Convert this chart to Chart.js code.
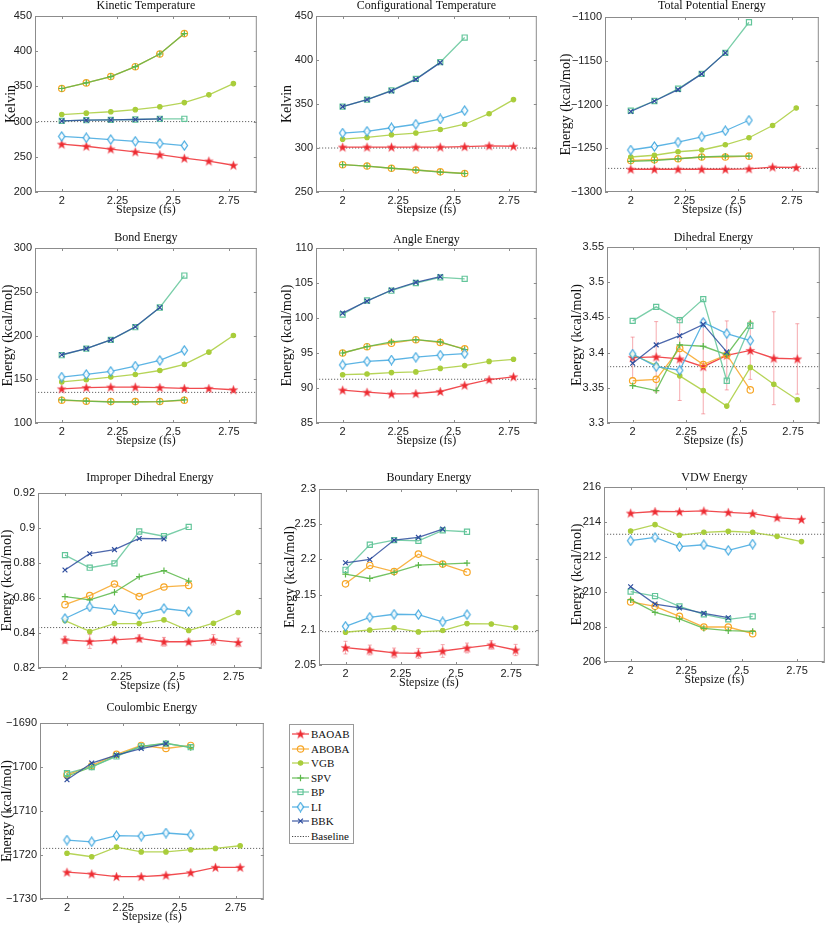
<!DOCTYPE html>
<html>
<head>
<meta charset="utf-8">
<script src="https://cdn.jsdelivr.net/npm/chart.js@4.4.1/dist/chart.umd.min.js"></script>
<style>
html, body { margin: 0; padding: 0; background: #fff; }
body { width: 830px; height: 925px; position: relative; overflow: hidden; }
.panel { position: absolute; }
#legend { position: absolute; left: 289px; top: 724px; width: 63px; height: 118px; border: 1px solid #9a9a9a; background: #fff;
  font: 11px "Liberation Serif", serif; color: #111; }
.item { position: absolute; left: 0; width: 63px; height: 14px; line-height: 14px; }
.item canvas { position: absolute; left: 2px; top: 0; }
.item span { position: absolute; left: 21px; top: 0; white-space: nowrap; }
</style>
</head>
<body>
<div id="legend"></div>
<script>
// integrators, in legend order
const methods = ['BAOAB', 'ABOBA', 'VGB', 'SPV', 'BP', 'LI', 'BBK'];
const stepsizes = [2, 2.11, 2.22, 2.33, 2.44, 2.55, 2.66, 2.77];
const stepTicks = [2, 2.25, 2.5, 2.75];

// each panel: one row per method (same order as methods)
const kineticTemp = [
    [268, 265, 261, 257, 253, 248, 244, 238],
    [347, 355, 364, 378, 396, 425],
    [310, 312, 314, 317, 321, 327, 338, 354],
    [347, 355, 364, 378, 396, 425],
    [301, 302, 302.5, 303, 304, 304],
    [279, 277, 274.5, 272, 269, 266],
    [301, 302, 302.5, 303, 304]
];
const kineticBase = 300;
const kineticTicks = [200, 250, 300, 350, 400, 450];

const configTemp = [
    [301, 301, 301, 301, 301, 301.5, 302.5, 302],
    [281, 279.5, 277, 275, 273, 271],
    [310, 312, 315, 317, 321, 327, 339, 355],
    [281, 279.5, 277, 275, 272.5, 271],
    [347, 355, 365.5, 378.5, 397.5, 425.5],
    [317, 319, 323, 327, 333, 342.5],
    [347, 355, 365, 378, 397]
];
const configBase = 300;
const configTicks = [250, 300, 350, 400, 450];

const totalPot = [
    [-1274, -1274, -1274, -1274, -1274, -1273.5, -1271.5, -1272],
    [-1264, -1263, -1262, -1260, -1260, -1259],
    [-1260, -1258, -1254, -1252, -1246, -1238, -1224, -1204],
    [-1265, -1264, -1262, -1260, -1259, -1259],
    [-1207, -1196, -1182, -1165, -1141, -1106],
    [-1252, -1248, -1243, -1237, -1230, -1218],
    [-1208, -1196, -1183, -1165, -1141]
];
const totalPotBase = -1273;
const totalPotTicks = [-1300, -1250, -1200, -1150, -1100];

const bondEnergy = [
    [139, 140.5, 141, 141, 140.5, 139.5, 139.5, 138],
    [126, 125, 124.5, 124.5, 124.5, 126],
    [147, 149.5, 152.5, 155.5, 160, 167, 181, 200],
    [126.5, 125, 124, 124, 124.5, 126.5],
    [177.5, 185, 195, 209.5, 232, 268.5],
    [152.5, 155.5, 159, 165, 171.5, 183],
    [178, 185, 195, 210, 232]
];
const bondBase = 135;
const bondTicks = [100, 150, 200, 250, 300];

const angleEnergy = [
    [89.7, 89.4, 89.15, 89.2, 89.5, 90.4, 91.2, 91.6],
    [95, 95.9, 96.4, 96.9, 96.5, 95.6],
    [91.9, 92.0, 92.2, 92.3, 92.8, 93.2, 93.8, 94.1],
    [95, 95.9, 96.6, 96.9, 96.6, 95.5],
    [100.5, 102.5, 103.9, 105.0, 105.8, 105.6],
    [93.3, 93.8, 94.0, 94.4, 94.7, 94.9],
    [100.7, 102.4, 104.0, 105.1, 105.9]
];
const angleBase = 91.25;
const angleTicks = [85, 90, 95, 100, 105, 110];

const dihedralEnergy = [
    [3.393, 3.394, 3.391, 3.380, 3.396, 3.403, 3.392, 3.391],
    [3.360, 3.362, 3.406, 3.383, 3.397, 3.347],
    [3.397, 3.382, 3.367, 3.346, 3.324, 3.379, 3.355, 3.333],
    [3.353, 3.346, 3.411, 3.409, 3.397, 3.442],
    [3.445, 3.465, 3.446, 3.476, 3.360, 3.438],
    [3.398, 3.380, 3.375, 3.443, 3.427, 3.417],
    [3.385, 3.411, 3.424, 3.440, 3.401]
];
const dihedralErr = [0.029, 0.05, 0.059, 0.067, 0.049, 0.041, 0.066, 0.05];
const dihedralBase = 3.38;
const dihedralTicks = [3.3, 3.35, 3.4, 3.45, 3.5, 3.55];

const improperEnergy = [
    [0.8361, 0.8352, 0.8361, 0.8369, 0.835, 0.835, 0.8361, 0.8346],
    [0.8562, 0.8614, 0.868, 0.8608, 0.8663, 0.8672],
    [0.8471, 0.8409, 0.8454, 0.8454, 0.8475, 0.8414, 0.8456, 0.8517],
    [0.8608, 0.8589, 0.8633, 0.8722, 0.8756, 0.8697],
    [0.8845, 0.8773, 0.8798, 0.898, 0.8953, 0.9006],
    [0.8483, 0.8549, 0.8532, 0.8506, 0.854, 0.8523],
    [0.876, 0.8853, 0.8876, 0.894, 0.8938]
];
const improperErr = [0.002, 0.004, 0.0015, 0.002, 0.0025, 0.0015, 0.003, 0.0025];
const improperBase = 0.8431;
const improperTicks = [0.82, 0.84, 0.86, 0.88, 0.9, 0.92];

const boundaryEnergy = [
    [2.0747, 2.0713, 2.0671, 2.0666, 2.0699, 2.0742, 2.0785, 2.0713],
    [2.1653, 2.1914, 2.1828, 2.2075, 2.1933, 2.1819],
    [2.0965, 2.0998, 2.1027, 2.097, 2.0989, 2.1088, 2.1083, 2.1031],
    [2.179, 2.1729, 2.1814, 2.1918, 2.1933, 2.1947],
    [2.1852, 2.2208, 2.2274, 2.2265, 2.2412, 2.2393],
    [2.105, 2.1178, 2.1221, 2.1216, 2.1112, 2.1216],
    [2.1952, 2.1999, 2.2274, 2.2312, 2.2431]
];
const boundaryErr = [0.009, 0.007, 0.007, 0.007, 0.009, 0.007, 0.006, 0.008];
const boundaryBase = 2.0974;
const boundaryTicks = [2.05, 2.1, 2.15, 2.2, 2.25, 2.3];

const vdwEnergy = [
    [214.51, 214.6, 214.59, 214.63, 214.55, 214.48, 214.25, 214.15],
    [209.43, 209.18, 208.61, 208.0, 208.0, 207.62],
    [213.49, 213.85, 213.24, 213.41, 213.47, 213.41, 213.18, 212.88],
    [209.56, 208.84, 208.46, 207.92, 207.79, 207.75],
    [210.02, 209.77, 209.18, 208.72, 208.44, 208.61],
    [212.93, 213.12, 212.59, 212.7, 212.38, 212.74],
    [210.3, 209.31, 209.09, 208.78, 208.53]
];
const vdwBase = 213.3;
const vdwTicks = [206, 208, 210, 212, 214, 216];

const coulombEnergy = [
    [-1723.9, -1724.3, -1724.9, -1724.9, -1724.6, -1724.0, -1722.8, -1722.8],
    [-1701.8, -1699.7, -1697.1, -1695.1, -1695.8, -1695.1],
    [-1719.6, -1720.4, -1718.2, -1719.3, -1719.3, -1718.8, -1718.5, -1717.9],
    [-1702.1, -1700.0, -1697.4, -1695.3, -1694.6, -1695.6],
    [-1701.4, -1700.0, -1697.6, -1695.3, -1694.7, -1695.5],
    [-1716.6, -1717.0, -1715.6, -1715.7, -1715.0, -1715.4],
    [-1702.9, -1699.1, -1697.3, -1695.8, -1694.7]
];
const coulombBase = -1718.5;
const coulombTicks = [-1730, -1720, -1710, -1700, -1690];

const X_MIN = 1.88, X_MAX = 2.875;
const ENERGY = 'Energy (kcal/mol)';

const colors = {
    BAOAB: '#ee2b30', ABOBA: '#f7a626', VGB: '#a9cd3b', SPV: '#5cb84a',
    BP: '#63c59a', LI: '#3fa7df', BBK: '#2e4d9e'
};

// plot-area boxes [left, top, right, bottom], y-title centre x, title gap
const panels = [
    { title: 'Kinetic Temperature', yLabel: 'Kelvin', series: kineticTemp, base: kineticBase, yTicks: kineticTicks, box: [35, 16, 258, 192], yt: 11, td: 10 },
    { title: 'Configurational Temperature', yLabel: 'Kelvin', series: configTemp, base: configBase, yTicks: configTicks, box: [316, 16, 538, 192], yt: 287, td: 10 },
    { title: 'Total Potential Energy', yLabel: ENERGY, series: totalPot, base: totalPotBase, yTicks: totalPotTicks, box: [605, 17, 820, 192], yt: 566, td: 11 },
    { title: 'Bond Energy', yLabel: ENERGY, series: bondEnergy, base: bondBase, yTicks: bondTicks, box: [35, 248, 258, 423], yt: 8, td: 10 },
    { title: 'Angle Energy', yLabel: ENERGY, series: angleEnergy, base: angleBase, yTicks: angleTicks, box: [316, 248, 538, 423], yt: 287, td: 8 },
    { title: 'Dihedral Energy', yLabel: ENERGY, series: dihedralEnergy, base: dihedralBase, yTicks: dihedralTicks, err: dihedralErr, box: [607, 247, 821, 423], yt: 577, td: 9 },
    { title: 'Improper Dihedral Energy', yLabel: ENERGY, series: improperEnergy, base: improperBase, yTicks: improperTicks, err: improperErr, box: [38, 493, 263, 668], yt: 7, td: 15 },
    { title: 'Boundary Energy', yLabel: ENERGY, series: boundaryEnergy, base: boundaryBase, yTicks: boundaryTicks, err: boundaryErr, box: [319, 489, 540, 665], yt: 290, td: 11 },
    { title: 'VDW Energy', yLabel: ENERGY, series: vdwEnergy, base: vdwBase, yTicks: vdwTicks, box: [604, 487, 826, 662], yt: 577, td: 9 },
    { title: 'Coulombic Energy', yLabel: ENERGY, series: coulombEnergy, base: coulombBase, yTicks: coulombTicks, box: [40, 723, 265, 899], yt: 7, td: 15 }
];

// marker images for the filled star and the tall diamond
function starImage(color) {
    const c = document.createElement('canvas');
    c.width = 11; c.height = 11;
    const g = c.getContext('2d');
    g.beginPath();
    for (let k = 0; k < 10; k++) {
        const rr = k % 2 ? 2.0 : 4.8;
        const a = -Math.PI / 2 + k * Math.PI / 5;
        g.lineTo(5.5 + rr * Math.cos(a), 5.9 + rr * Math.sin(a));
    }
    g.closePath();
    g.fillStyle = color;
    g.fill();
    g.strokeStyle = 'rgba(240,120,130,0.7)';
    g.lineWidth = 0.7;
    g.stroke();
    return c;
}

function diamondImage(color) {
    const c = document.createElement('canvas');
    c.width = 9; c.height = 11;
    const g = c.getContext('2d');
    g.beginPath();
    g.moveTo(4.5, 1); g.lineTo(7.6, 5.5); g.lineTo(4.5, 10); g.lineTo(1.4, 5.5);
    g.closePath();
    g.fillStyle = 'rgba(255,255,255,0.85)';
    g.fill();
    g.strokeStyle = color;
    g.lineWidth = 1.2;
    g.stroke();
    return c;
}

const markers = {
    BAOAB: { style: starImage(colors.BAOAB), r: 4, fill: colors.BAOAB },
    ABOBA: { style: 'circle', r: 3.2, fill: 'rgba(255,255,255,0)' },
    VGB: { style: 'circle', r: 2.2, fill: colors.VGB },
    SPV: { style: 'cross', r: 3.2, fill: colors.SPV },
    BP: { style: 'rect', r: 3.6, fill: 'rgba(255,255,255,0)' },
    LI: { style: diamondImage(colors.LI), r: 4, fill: 'rgba(255,255,255,0)' },
    BBK: { style: 'crossRot', r: 3.4, fill: colors.BBK }
};

function fmt(v) {
    return String(Math.round(v * 1e6) / 1e6).replace('-', '\u2212');
}

function makePanel(p) {
    const [l, t, r, b] = p.box;
    const cl = Math.round(p.yt - 9.4);
    const ct = t - 26;
    const div = document.createElement('div');
    div.className = 'panel';
    div.style.left = cl + 'px';
    div.style.top = ct + 'px';
    div.style.width = (r + 4 - cl) + 'px';
    div.style.height = (b + 28 - ct) + 'px';
    const canvas = document.createElement('canvas');
    div.appendChild(canvas);
    document.body.appendChild(div);

    const datasets = methods.map((m, i) => ({
        label: m,
        data: p.series[i].map((v, k) => ({ x: stepsizes[k], y: v })),
        borderColor: colors[m] + 'd9',
        borderWidth: 1.3,
        pointStyle: markers[m].style,
        pointRadius: markers[m].r,
        pointBorderColor: colors[m],
        pointBackgroundColor: markers[m].fill,
        pointBorderWidth: 1.2,
        tension: 0,
        order: 7 - i
    }));
    datasets.push({
        label: 'Baseline',
        data: [{ x: X_MIN, y: p.base }, { x: X_MAX, y: p.base }],
        borderColor: '#666',
        borderWidth: 1,
        borderDash: [1.2, 1.8],
        pointRadius: 0,
        order: 10
    });

    const extras = {
        id: 'extras',
        beforeDatasetsDraw(chart) {
            if (!p.err) return;
            const { ctx, scales: { x, y } } = chart;
            const vals = p.series[0];
            ctx.save();
            ctx.strokeStyle = 'rgba(238,100,110,0.55)';
            ctx.lineWidth = 1;
            p.err.forEach((e, i) => {
                const px = x.getPixelForValue(stepsizes[i]);
                const y1 = y.getPixelForValue(vals[i] - e);
                const y2 = y.getPixelForValue(vals[i] + e);
                ctx.beginPath();
                ctx.moveTo(px, y1); ctx.lineTo(px, y2);
                ctx.moveTo(px - 2, y1); ctx.lineTo(px + 2, y1);
                ctx.moveTo(px - 2, y2); ctx.lineTo(px + 2, y2);
                ctx.stroke();
            });
            ctx.restore();
        },
        afterDraw(chart) {
            const { ctx, chartArea: { left, top, right, bottom }, scales: { x, y } } = chart;
            ctx.save();
            ctx.strokeStyle = '#8c8c8c';
            ctx.lineWidth = 1;
            ctx.strokeRect(left + 0.5, top + 0.5, right - left - 1, bottom - top - 1);
            ctx.beginPath();
            stepTicks.forEach(v => {
                const px = Math.round(x.getPixelForValue(v)) + 0.5;
                ctx.moveTo(px, bottom); ctx.lineTo(px, bottom - 3);
                ctx.moveTo(px, top); ctx.lineTo(px, top + 3);
            });
            p.yTicks.forEach(v => {
                const py = Math.round(y.getPixelForValue(v)) + 0.5;
                ctx.moveTo(left, py); ctx.lineTo(left + 3, py);
                ctx.moveTo(right, py); ctx.lineTo(right - 3, py);
            });
            ctx.stroke();
            ctx.font = '12px "Liberation Serif"';
            ctx.fillStyle = '#111';
            ctx.textAlign = 'center';
            ctx.textBaseline = 'middle';
            ctx.fillText(p.title, (left + right) / 2, top - p.td);
            ctx.restore();
        }
    };

    new Chart(canvas, {
        type: 'line',
        data: { datasets },
        plugins: [extras],
        options: {
            responsive: true,
            maintainAspectRatio: false,
            animation: false,
            events: [],
            layout: { padding: { left: 0, top: 26, right: 4, bottom: 0 } },
            plugins: { legend: { display: false }, tooltip: { enabled: false } },
            scales: {
                x: {
                    type: 'linear', min: X_MIN, max: X_MAX,
                    grid: { display: false, drawTicks: false },
                    border: { display: false },
                    afterBuildTicks: s => { s.ticks = stepTicks.map(v => ({ value: v })); },
                    afterFit: s => { s.height = 28; },
                    ticks: { padding: 2, color: '#222', maxRotation: 0, autoSkip: false,
                        font: { family: 'Liberation Sans', size: 11 }, callback: fmt },
                    title: { display: true, text: 'Stepsize (fs)', color: '#111',
                        font: { family: 'Liberation Serif', size: 12 }, padding: { top: 0, bottom: 3 } }
                },
                y: {
                    type: 'linear', min: p.yTicks[0], max: p.yTicks[p.yTicks.length - 1],
                    grid: { display: false, drawTicks: false },
                    border: { display: false },
                    afterBuildTicks: s => { s.ticks = p.yTicks.map(v => ({ value: v })); },
                    afterFit: s => { s.width = l - cl; },
                    ticks: { padding: 3, color: '#222', autoSkip: false,
                        font: { family: 'Liberation Sans', size: 11 }, callback: fmt },
                    title: { display: true, text: p.yLabel, color: '#111',
                        font: { family: 'Liberation Serif', size: 14 }, padding: { top: 1, bottom: 0 } }
                }
            }
        }
    });
}

panels.forEach(makePanel);

// legend box
function drawSample(g, m) {
    g.lineWidth = 1.3;
    if (m === 'Baseline') {
        g.strokeStyle = '#444';
        g.lineWidth = 1;
        g.setLineDash([1.2, 1.5]);
        g.beginPath(); g.moveTo(0, 7.5); g.lineTo(17, 7.5); g.stroke();
        return;
    }
    const c = colors[m];
    g.strokeStyle = c + 'd9';
    g.beginPath(); g.moveTo(0, 7); g.lineTo(17, 7); g.stroke();
    const mk = markers[m];
    const cx = 8.5, cy = 7;
    g.strokeStyle = c;
    g.lineWidth = 1.2;
    if (typeof mk.style !== 'string') {
        g.drawImage(mk.style, cx - mk.style.width / 2, cy - mk.style.height / 2);
    } else if (mk.style === 'circle') {
        g.beginPath(); g.arc(cx, cy, mk.r, 0, Math.PI * 2);
        g.fillStyle = mk.fill; g.fill(); g.stroke();
    } else if (mk.style === 'cross') {
        g.beginPath();
        g.moveTo(cx - mk.r, cy); g.lineTo(cx + mk.r, cy);
        g.moveTo(cx, cy - mk.r); g.lineTo(cx, cy + mk.r);
        g.stroke();
    } else if (mk.style === 'rect') {
        const s = mk.r * Math.SQRT1_2;
        g.strokeRect(cx - s, cy - s, 2 * s, 2 * s);
    } else if (mk.style === 'crossRot') {
        const s = mk.r * Math.SQRT1_2;
        g.beginPath();
        g.moveTo(cx - s, cy - s); g.lineTo(cx + s, cy + s);
        g.moveTo(cx - s, cy + s); g.lineTo(cx + s, cy - s);
        g.stroke();
    }
}

const legend = document.getElementById('legend');
methods.concat(['Baseline']).forEach((m, k) => {
    const item = document.createElement('div');
    item.className = 'item';
    item.style.top = (2 + k * 14.5) + 'px';
    const cv = document.createElement('canvas');
    cv.width = 18; cv.height = 14;
    drawSample(cv.getContext('2d'), m);
    const span = document.createElement('span');
    span.textContent = m;
    item.appendChild(cv);
    item.appendChild(span);
    legend.appendChild(item);
});
</script>
</body>
</html>
